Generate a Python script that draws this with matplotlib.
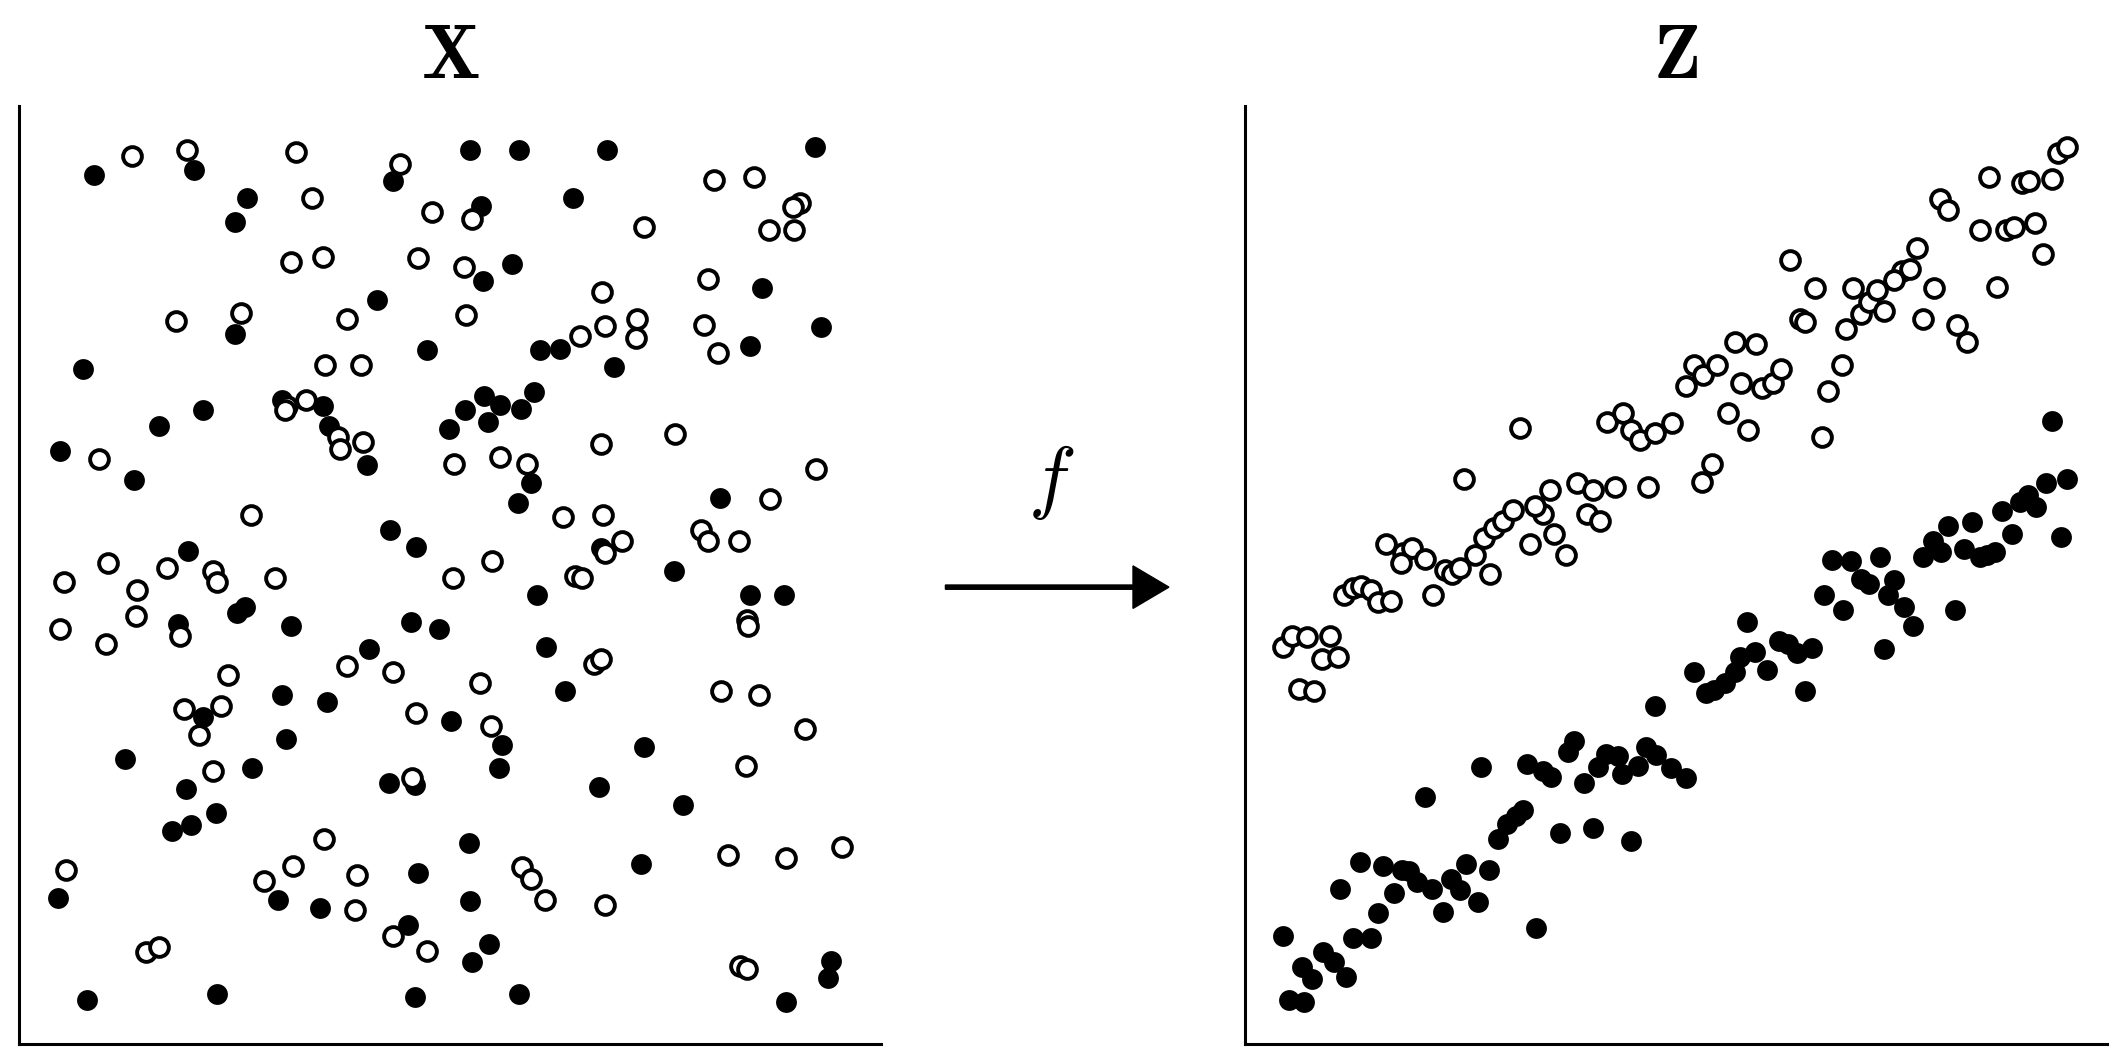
import matplotlib.pyplot as plt

plt.rcParams['mathtext.fontset'] = 'cm'

x_fill = [(69,129),(143,126),(182,146),(173,164),(347,111),(383,111),(448,111),(601,109),(290,134),(355,152),
          (423,146),(356,208),(378,195),(278,222),(173,247),(562,213),(606,242),(61,273),(150,303),(117,315),
          (44,333),(99,355),(208,296),(238,300),(243,315),(271,344),(315,259),(398,259),(413,258),(453,271),
          (553,256),(343,303),(331,317),(357,293),(369,299),(394,290),(384,302),(360,312),(392,357),(382,372),
          (531,368),(288,392),(307,404),(139,407),(181,449),(175,453),(131,461),(215,463),(303,460),(324,465),
          (396,440),(443,405),(497,422),(553,440),(578,440),(272,480),(403,478),(208,514),(241,519),(150,530),
          (211,546),(333,533),(370,551),(417,511),(92,561),(475,552),(137,583),(186,568),(159,601),(127,614),
          (141,610),(287,579),(306,580),(442,582),(368,568),(504,595),(346,623),(308,645),(473,639),(43,664),
          (205,665),(236,671),(347,666),(301,684),(361,698),(348,711),(64,739),(160,735),(306,737),(383,735),
          (580,741),(611,723),(613,710)]
x_open = [(97,115),(138,111),(218,112),(295,121),(230,146),(319,157),(348,162),(527,133),(556,131),(590,150),
          (585,153),(567,170),(586,170),(475,168),(215,194),(238,190),(308,191),(342,197),(130,237),(178,231),
          (256,236),(344,233),(444,216),(446,241),(470,236),(469,250),(428,248),(519,240),(522,206),(530,261),
          (240,270),(266,270),(212,300),(226,296),(210,303),(249,323),(251,332),(268,327),(73,339),(335,343),
          (369,338),(389,343),(443,328),(498,321),(602,347),(185,381),(415,382),(445,381),(568,369),(517,392),
          (522,400),(545,400),(459,400),(446,409),(47,430),(80,416),(101,436),(100,455),(123,420),(157,422),
          (160,430),(203,427),(44,465),(78,476),(133,470),(334,427),(363,415),(424,426),(429,427),(551,458),
          (552,463),(438,491),(443,487),(256,492),(290,497),(168,499),(136,524),(163,522),(147,543),(307,527),
          (354,505),(362,537),(532,511),(560,514),(594,539),(157,570),(304,575),(550,566),(49,643),(195,651),
          (216,640),(239,620),(263,647),(385,641),(392,650),(402,665),(446,669),(262,673),(290,692),(315,703),
          (108,704),(117,700),(537,632),(580,634),(621,626),(546,714),(551,716)]

# latent space Z
z_open = [(948,478),(955,470),(966,471),(983,470),(960,509),(971,511),(977,487),(989,486),(993,440),(1000,435),
          (1006,433),(1013,436),(1018,445),(1028,444),(1024,402),(1037,409),(1043,405),(1035,416),(1053,413),
          (1059,440),(1068,421),(1073,424),(1079,420),(1101,424),(1090,410),(1096,398),(1104,390),(1110,385),
          (1118,377),(1082,354),(1123,316),(1130,402),(1140,380),(1145,362),(1134,374),(1148,395),(1157,410),
          (1165,357),(1172,380),(1177,362),(1182,385),(1193,360),(1187,312),(1199,305),(1205,318),(1211,325),
          (1222,320),(1235,313),(1217,360),(1257,356),(1264,343),(1245,285),(1251,270),(1258,277),(1268,270),
          (1281,253),(1276,305),(1291,318),(1286,283),(1297,254),(1301,287),(1309,283),(1315,273),(1322,192),
          (1329,236),(1333,238),(1340,213),(1345,323),(1350,289),(1360,270),(1368,213),(1374,232),(1363,243),
          (1380,223),(1386,214),(1391,230),(1404,200),(1410,199),(1415,183),(1398,207),(1420,236),(1428,213),
          (1432,147),(1438,155),(1445,240),(1452,253),(1462,170),(1468,131),(1474,212),(1481,170),(1487,168),
          (1493,135),(1498,134),(1502,165),(1508,188),(1515,132),(1519,113),(1526,109)]
z_fill = [(948,692),(953,739),(964,741),(962,715),(970,724),(978,704),(986,711),(995,722),(1000,693),(990,657),
          (1013,693),(1018,675),(1005,637),(1022,640),(1030,660),(1041,644),(1047,652),(1036,643),(1053,589),
          (1058,657),(1066,674),(1072,650),(1079,658),(1083,639),(1092,667),(1094,567),(1100,643),(1107,620),
          (1113,609),(1120,603),(1125,599),(1135,686),(1128,565),(1140,570),(1146,574),(1152,616),(1158,556),
          (1163,548),(1170,579),(1177,612),(1180,567),(1186,557),(1195,559),(1198,572),(1205,622),(1210,566),
          (1216,552),(1223,558),(1234,568),(1245,575),(1222,522),(1251,497),(1260,512),(1266,510),(1274,505),
          (1281,497),(1290,460),(1285,486),(1296,482),(1305,495),(1314,474),(1320,476),(1327,483),(1333,511),
          (1338,479),(1347,440),(1353,414),(1361,451),(1367,415),(1374,428),(1380,432),(1388,412),(1394,440),
          (1398,429),(1406,449),(1412,463),(1391,480),(1420,412),(1427,400),(1433,408),(1438,389),(1443,451),
          (1450,406),(1456,386),(1462,412),(1467,410),(1473,408),(1478,378),(1485,395),(1491,371),(1497,366),
          (1503,375),(1510,357),(1515,311),(1521,397),(1526,354)]

fig = plt.figure(figsize=(21.13, 10.62), dpi=100)
axl = fig.add_axes([0.009, 0.0166, 0.408, 0.884])
axr = fig.add_axes([0.589, 0.0166, 0.408, 0.884])


def draw(ax, filled, hollow, xlim, title):
    ax.plot([p[0] for p in filled], [p[1] for p in filled], 'o', color='black', ms=15, mew=0)
    ax.plot([p[0] for p in hollow], [p[1] for p in hollow], 'o', mfc='white', mec='black', ms=13.5, mew=2.8)
    ax.set_xlim(*xlim)
    ax.set_ylim(772, 78)
    for s in ['top', 'right']:
        ax.spines[s].set_visible(False)
    for s in ['left', 'bottom']:
        ax.spines[s].set_linewidth(2.2)
    ax.set_xticks([])
    ax.set_yticks([])
    ax.set_title(r'$\mathbf{%s}$' % title, fontsize=56, pad=20)


draw(axl, x_fill, x_open, (14, 650), 'X')
draw(axr, z_fill, z_open, (920, 1555), 'Z')

# the mapping arrow
fig.patches.append(plt.matplotlib.patches.FancyArrow(
    698 / 1560, 1 - 434 / 785, 165 / 1560, 0, width=0.004, head_width=0.04, head_length=0.017,
    length_includes_head=True, color='black', transform=fig.transFigure, figure=fig))
fig.text(776 / 1560, 1 - 357 / 785, r'$f$', fontsize=58, ha='center', va='center')

fig.savefig('out.png', dpi=100)
